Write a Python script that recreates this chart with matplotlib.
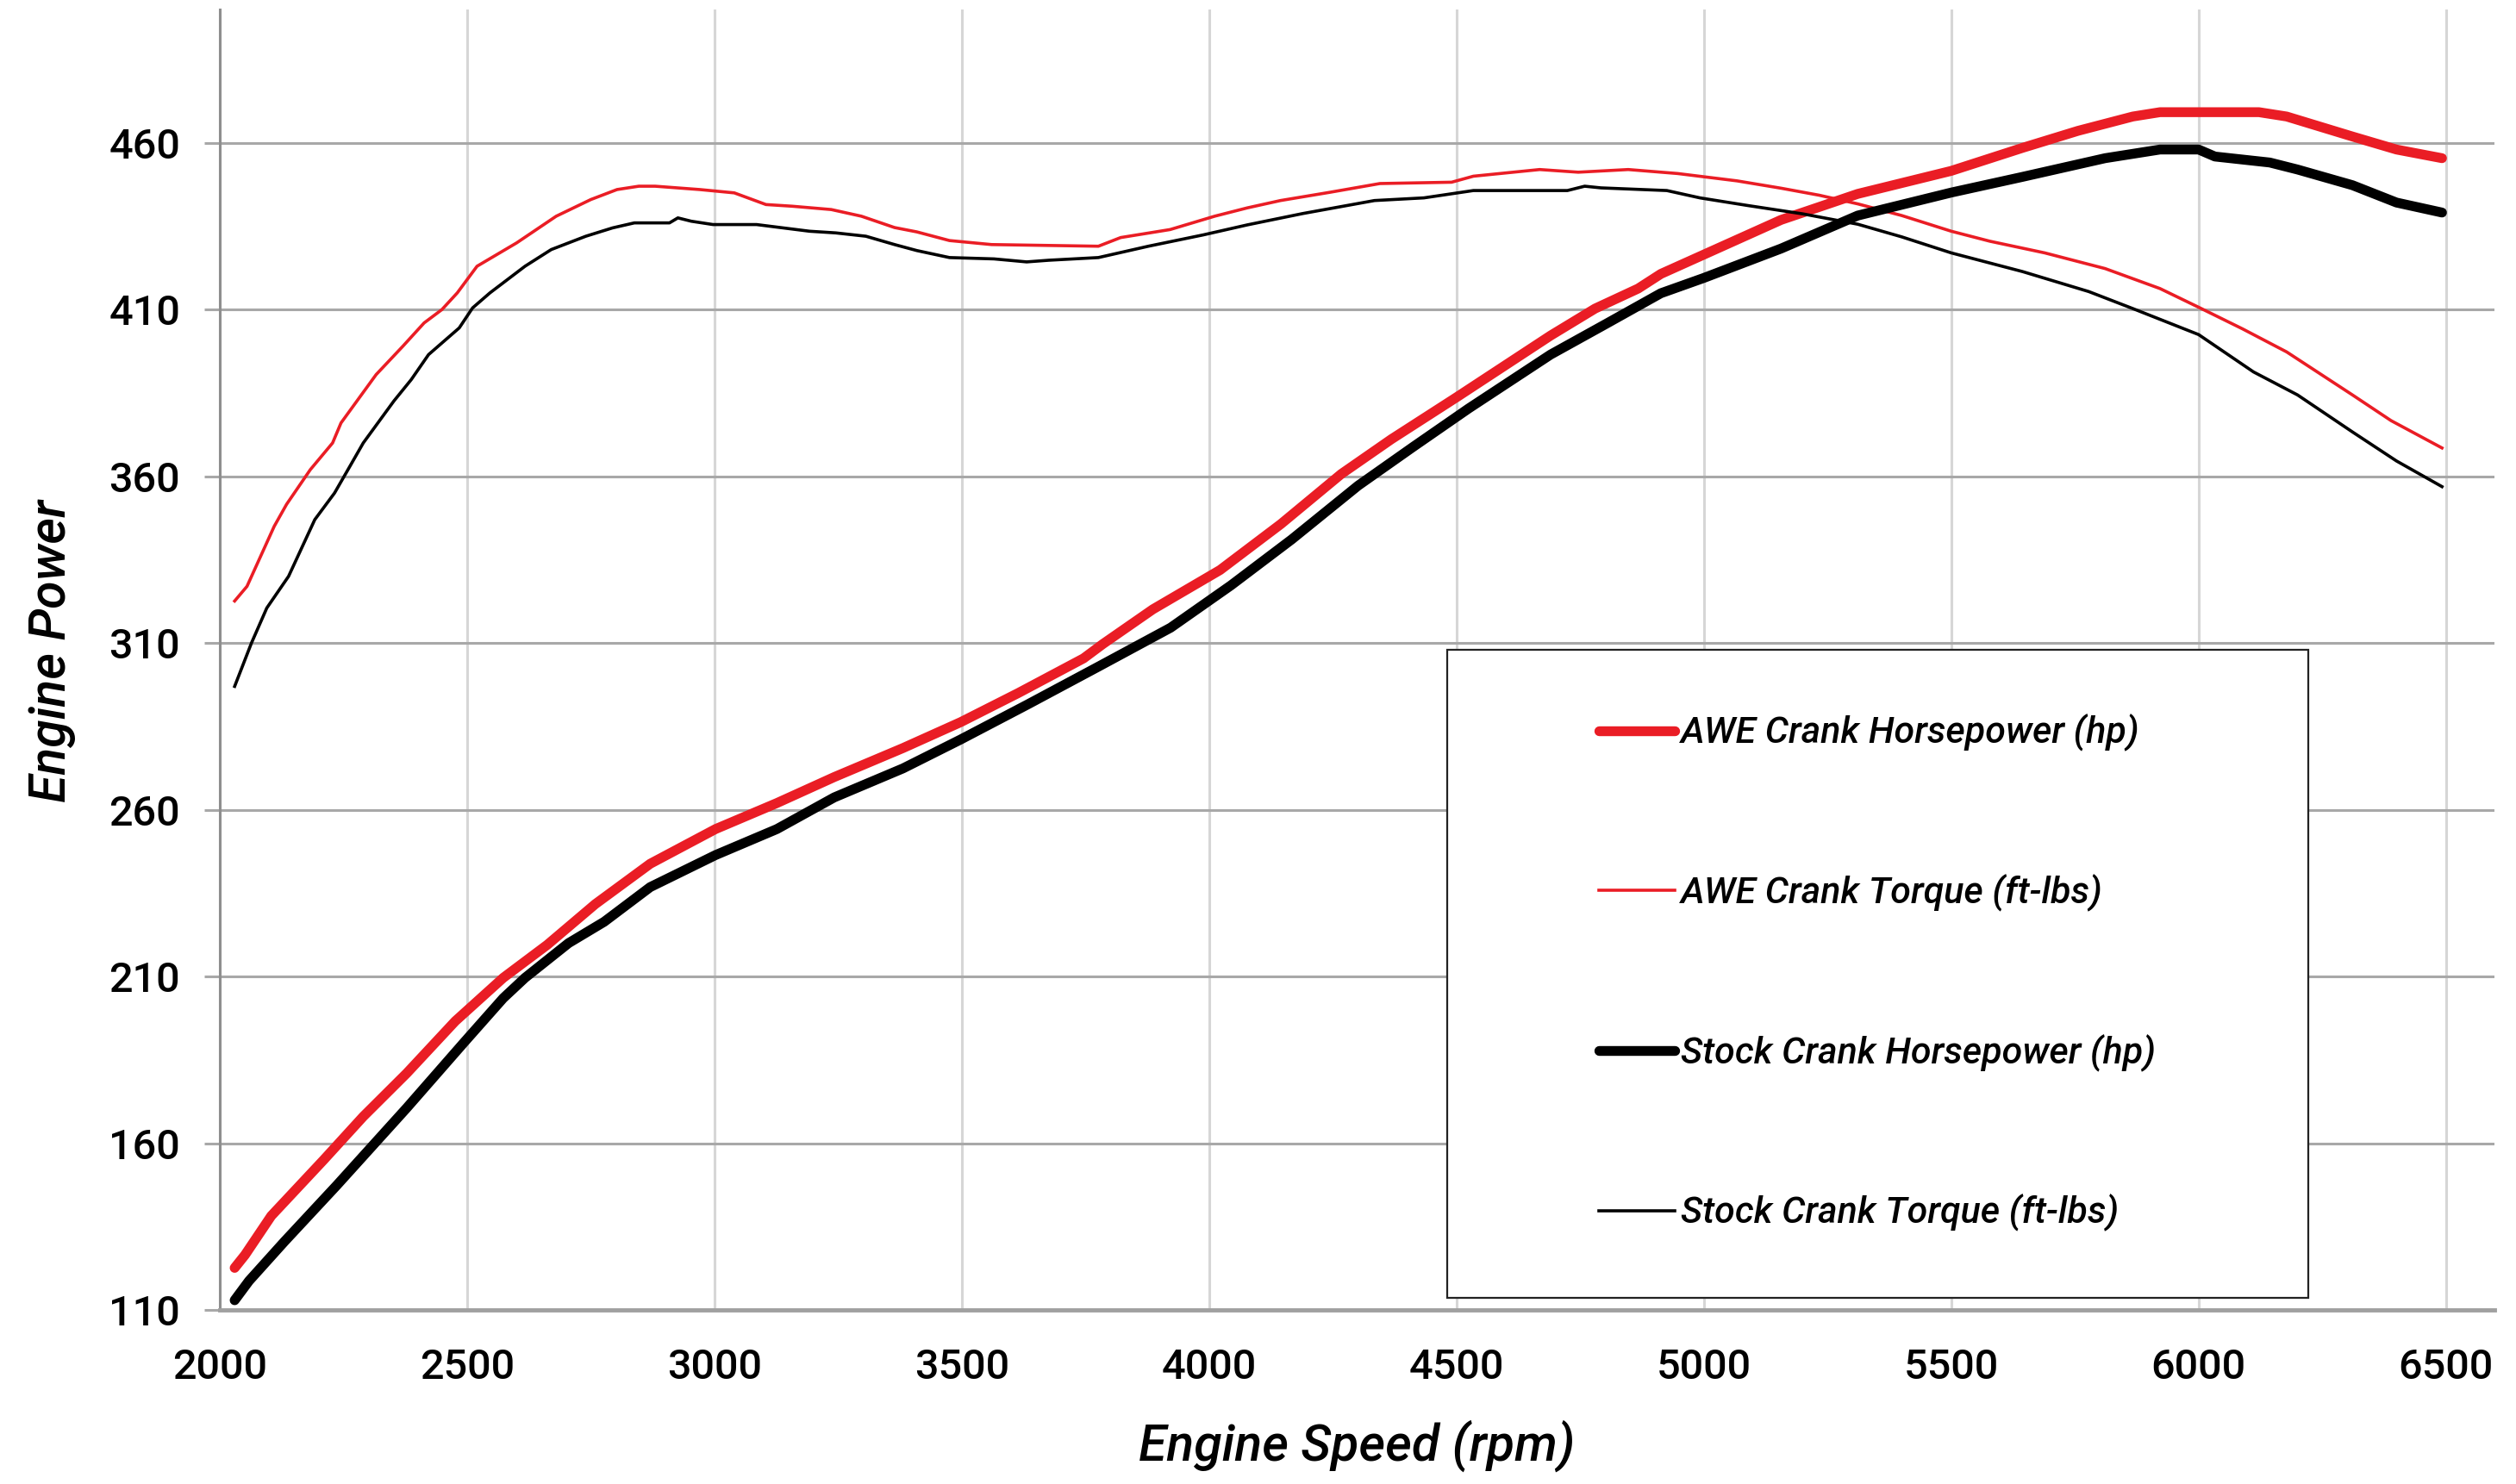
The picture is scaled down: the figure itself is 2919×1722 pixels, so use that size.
import matplotlib
matplotlib.use("Agg")
import matplotlib.pyplot as plt
from matplotlib.patches import Rectangle

# ---------------- data ----------------
awe_tq_rpm = [2030, 2055, 2110, 2135, 2183, 2228, 2245, 2316, 2370, 2413, 2449, 2480, 2520, 2600,
              2680, 2750, 2803, 2847, 2880, 2970, 3040, 3104, 3157, 3236, 3297, 3364, 3409, 3475,
              3560, 3776, 3821, 3921, 4011, 4077, 4144, 4245, 4345, 4490, 4534, 4668, 4746, 4847,
              4947, 5067, 5156, 5233, 5311, 5400, 5500, 5578, 5689, 5811, 5922, 6000, 6089, 6178,
              6311, 6389, 6492]
awe_tq = [322.6, 327, 345, 351.6, 362, 370, 376, 390.5, 399, 406, 410, 415, 423, 430,
          438, 443, 446, 447, 447, 446, 445, 441.5, 441, 440, 438, 434.6, 433.3, 430.7,
          429.5, 429, 431.6, 434, 438, 440.5, 442.7, 445.2, 447.8, 448.2, 450, 452, 451.2, 452,
          450.8, 448.6, 446.4, 444.3, 441.7, 438.2, 433.5, 430.5, 427, 422.3, 416.3, 410.7, 404.2, 397.3,
          384.4, 376.7, 368.5]

stock_tq_rpm = [2030, 2064, 2095, 2139, 2192, 2232, 2263, 2290, 2352, 2387, 2422, 2484, 2511, 2546,
                2617, 2670, 2740, 2794, 2838, 2909, 2926, 2953, 2997, 3085, 3192, 3245, 3306, 3364,
                3409, 3475, 3565, 3631, 3676, 3776, 3877, 3988, 4077, 4189, 4334, 4434, 4534, 4724,
                4759, 4792, 4925, 4992, 5089, 5200, 5311, 5400, 5500, 5644, 5778, 5867, 6000, 6111,
                6200, 6311, 6400, 6492]
stock_tq = [297, 310, 320.5, 330, 347, 355, 363, 370, 382.6, 389, 396.5, 404.5, 410.5, 415,
            423, 428, 432, 434.5, 436, 436, 437.5, 436.5, 435.5, 435.5, 433.5, 433, 432, 429.5,
            427.7, 425.6, 425.2, 424.3, 424.8, 425.6, 429, 432.4, 435.4, 438.8, 442.7, 443.5, 445.7, 445.7,
            447, 446.5, 445.7, 443.5, 441.2, 438.7, 435.6, 431.8, 427, 421.4, 415.4, 410.3, 402.5, 391.3,
            384.4, 373.3, 364.6, 356.9]

awe_hp_rpm = [2030, 2051, 2104, 2210, 2290, 2378, 2476, 2573, 2662, 2759, 2870, 3002, 3126, 3242,
              3381, 3498, 3614, 3746, 3785, 3886, 4022, 4145, 4267, 4368, 4501, 4690, 4780, 4867,
              4913, 5000, 5156, 5311, 5500, 5644, 5756, 5867, 5922, 6122, 6178, 6311, 6400, 6492]
awe_hp = [122.6, 126.5, 138.2, 155, 168, 181, 196.6, 209.6, 219.5, 231.7, 243.8, 254.2, 262, 269.8,
          278.5, 286.3, 295, 305.4, 309.7, 320.1, 331.9, 345.7, 360.7, 371.1, 383.8, 402.2, 410.3, 416.3,
          420.7, 426.5, 436.9, 444.7, 451.6, 458.5, 463.6, 467.9, 469.2, 469.2, 467.9, 461.9, 458, 455.4]

stock_hp_rpm = [2030, 2059, 2130, 2236, 2378, 2493, 2573, 2617, 2705, 2777, 2870, 3002, 3126, 3242, 3381,
                3498, 3632, 3777, 3922, 4044, 4167, 4301, 4412, 4524, 4690, 4802, 4913, 5000, 5156,
                5311, 5500, 5644, 5811, 5922, 6000, 6033, 6144, 6200, 6311, 6400, 6492]
stock_hp = [112.9, 118.7, 130.4, 147.3, 170.6, 190.1, 203.5, 209.6, 220, 226.4, 236.8, 246.4, 254.2, 263.7, 272.4,
            281.1, 291.5, 303, 314.6, 327.3, 341.1, 357.2, 368.8, 380.3, 396.5, 405.7, 414.9, 419.5, 428.3,
            438.2, 445.1, 449.8, 455.4, 458, 458, 455.9, 454.1, 452, 447.3, 442.1, 439.1]

series_labels = ["AWE Crank Horsepower (hp)", "AWE Crank Torque (ft-lbs)",
                 "Stock Crank Horsepower (hp)", "Stock Crank Torque (ft-lbs)"]
x_ticks = [2000, 2500, 3000, 3500, 4000, 4500, 5000, 5500, 6000, 6500]
y_ticks = [110, 160, 210, 260, 310, 360, 410, 460]
x_label = "Engine Speed (rpm)"
y_label = "Engine Power"

RED = "#EA1D25"
W, H = 2919, 1722
FONT = ["Roboto", "DejaVu Sans"]

fig = plt.figure(figsize=(W / 100, H / 100), dpi=100)
fig.patch.set_facecolor("white")
left, right, top, bottom = 255, 2894, 11, 1520
ax = fig.add_axes([left / W, 1 - bottom / H, (right - left) / W, (bottom - top) / H])

ax.plot(awe_hp_rpm, awe_hp, color=RED, lw=8.2, solid_capstyle="round", solid_joinstyle="round",
        label=series_labels[0], zorder=3)
ax.plot(awe_tq_rpm, awe_tq, color=RED, lw=2.6, label=series_labels[1], zorder=3)
ax.plot(stock_hp_rpm, stock_hp, color="black", lw=8.2, solid_capstyle="round", solid_joinstyle="round",
        label=series_labels[2], zorder=3)
ax.plot(stock_tq_rpm, stock_tq, color="black", lw=2.6, label=series_labels[3], zorder=3)

ax.set_xlim(2000, 6598)
ax.set_ylim(110, 500)
ax.set_xticks(x_ticks)
ax.set_yticks(y_ticks)

ax.set_axisbelow(True)
ax.yaxis.grid(True, color="#a8a8a8", lw=2.2)
ax.xaxis.grid(True, color="#d6d6d6", lw=2.2)

for s in ("top", "right"):
    ax.spines[s].set_visible(False)
ax.spines["left"].set_color("#8e8e8e")
ax.spines["left"].set_linewidth(2.2)
ax.spines["bottom"].set_color("#a0a0a0")
ax.spines["bottom"].set_linewidth(3.5)

ax.tick_params(axis="y", direction="out", length=13, width=2.2, color="#a8a8a8", pad=20)
ax.tick_params(axis="x", length=0, pad=32)
for lab in ax.get_xticklabels() + ax.get_yticklabels():
    lab.set_fontfamily(FONT)
    lab.set_fontweight("medium")
    lab.set_fontsize(35)
    lab.set_color("black")

fig.text(1574 / W, 1 - 1695 / H, x_label, ha="center", va="baseline",
         fontsize=42.5, fontstyle="italic", fontweight="medium", family=FONT)
fig.text(60 / W, 1 - 755 / H, y_label, ha="center", va="center", rotation=90,
         fontsize=42.5, fontstyle="italic", fontweight="medium", family=FONT)

# legend box
bx0, bx1, by0, by1 = 1679, 2678, 754, 1506
rect = Rectangle((bx0 / W, 1 - by1 / H), (bx1 - bx0) / W, (by1 - by0) / H,
                 transform=fig.transFigure, facecolor="white", edgecolor="#222222", lw=1.6, zorder=4)
ax.add_artist(rect)
leg = ax.legend(loc="center", bbox_to_anchor=(2178 / W, 1 - 1129 / H), bbox_transform=fig.transFigure,
                frameon=False,
                prop={"family": FONT, "style": "italic", "weight": "medium", "size": 31},
                handlelength=2.05, handletextpad=0.17, labelspacing=3.3)
leg.set_zorder(5)

fig.savefig("out.png", dpi=100, facecolor="white")
